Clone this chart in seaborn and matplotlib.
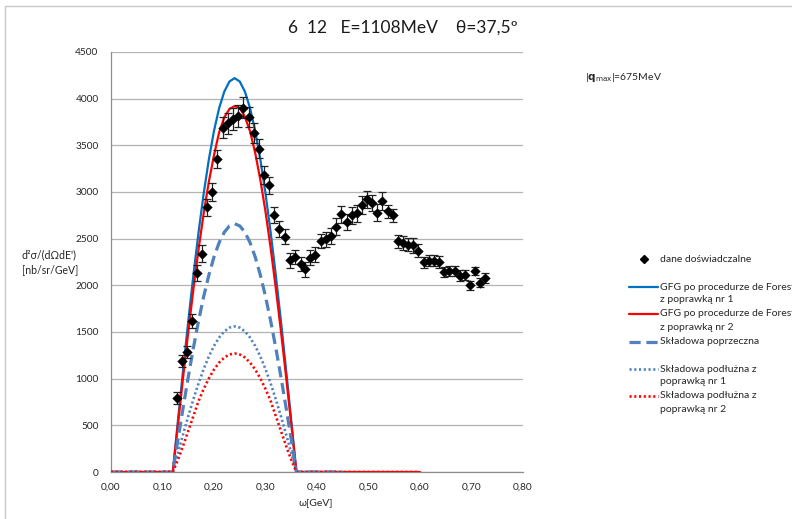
import matplotlib
matplotlib.use("Agg")
import matplotlib.pyplot as plt
from matplotlib.lines import Line2D
from matplotlib.patches import Rectangle
import seaborn as sns
import pandas as pd

# ---------------- data ----------------
omega_data = [0.128, 0.138, 0.147, 0.157, 0.167, 0.177, 0.187, 0.197, 0.206, 0.217,
              0.228, 0.237, 0.247, 0.257, 0.267, 0.277, 0.287, 0.297, 0.307, 0.317,
              0.327, 0.337, 0.348, 0.357, 0.368, 0.377, 0.387, 0.397, 0.407, 0.417,
              0.427, 0.437, 0.447, 0.458, 0.467, 0.477, 0.487, 0.498, 0.507, 0.517,
              0.527, 0.537, 0.547, 0.557, 0.567, 0.577, 0.587, 0.597, 0.607, 0.617,
              0.627, 0.637, 0.647, 0.657, 0.667, 0.678, 0.688, 0.697, 0.707, 0.717,
              0.727]
sigma_data = [790, 1190, 1285, 1615, 2130, 2340, 2835, 3000, 3355, 3690,
              3735, 3780, 3815, 3905, 3805, 3630, 3465, 3180, 3070, 2755,
              2600, 2520, 2270, 2300, 2225, 2170, 2295, 2330, 2475, 2495,
              2525, 2630, 2760, 2680, 2750, 2770, 2860, 2920, 2885, 2780,
              2905, 2795, 2750, 2470, 2450, 2435, 2430, 2370, 2245, 2265,
              2265, 2250, 2140, 2155, 2155, 2105, 2110, 2000, 2155, 2030,
              2080]
sigma_err = [65, 65, 65, 75, 85, 90, 95, 95, 100, 110,
             115, 115, 115, 110, 110, 105, 100, 95, 90, 85,
             85, 80, 80, 75, 75, 80, 80, 80, 80, 80,
             85, 90, 90, 85, 90, 95, 95, 90, 85, 95,
             100, 70, 70, 70, 75, 70, 80, 70, 60, 60,
             60, 60, 55, 55, 55, 55, 55, 45, 45, 45,
             50]

omega_model = [0.00, 0.12, 0.13, 0.14, 0.15, 0.16, 0.17, 0.18, 0.19, 0.20, 0.21, 0.22, 0.23,
               0.24, 0.25, 0.26, 0.27, 0.28, 0.29, 0.30, 0.31, 0.32, 0.33, 0.34, 0.35, 0.36]
omega_tail_blue = [0.45]
omega_tail_red = [0.60]

gfg_nr1 = [0, 0, 551, 1092, 1615, 2110, 2569, 2984, 3348, 3655, 3899, 4076, 4184,
           4220, 4184, 4076, 3899, 3655, 3348, 2984, 2569, 2110, 1615, 1092, 551, 0]
gfg_nr2 = [0, 0, 512, 1015, 1500, 1960, 2386, 2772, 3110, 3395, 3640, 3800, 3890,
           3920, 3900, 3805, 3650, 3420, 3130, 2790, 2400, 1970, 1510, 1020, 515, 0]
transverse = [0, 0, 347, 688, 1018, 1330, 1619, 1881, 2110, 2304, 2458, 2569, 2637,
              2660, 2637, 2569, 2458, 2304, 2110, 1881, 1619, 1330, 1018, 688, 347, 0]
longit_nr1 = [0, 0, 204, 404, 597, 780, 950, 1103, 1238, 1351, 1441, 1507, 1547,
              1560, 1547, 1507, 1441, 1351, 1238, 1103, 950, 780, 597, 404, 204, 0]
longit_nr2 = [0, 0, 130, 280, 440, 600, 760, 890, 1003, 1098, 1172, 1227, 1259,
              1270, 1259, 1227, 1172, 1098, 1003, 890, 760, 600, 440, 280, 130, 0]

x_ticks = [0.0, 0.1, 0.2, 0.3, 0.4, 0.5, 0.6, 0.7, 0.8]
x_tick_labels = ["0,00", "0,10", "0,20", "0,30", "0,40", "0,50", "0,60", "0,70", "0,80"]
y_ticks = [0, 500, 1000, 1500, 2000, 2500, 3000, 3500, 4000, 4500]

legend_labels = ["dane doświadczalne",
                 "GFG po procedurze de Foresta\nz poprawką nr 1",
                 "GFG po procedurze de Foresta\nz poprawką nr 2",
                 "Składowa poprzeczna",
                 "Składowa podłużna z\npoprawką nr 1",
                 "Składowa podłużna z\npoprawką nr 2"]

# ---------------- style ----------------
sns.set_style("white")
plt.rcParams["font.family"] = ["Lato", "DejaVu Sans"]

W, H = 792, 519
fig = plt.figure(figsize=(W / 100, H / 100), dpi=100)
ax = fig.add_axes([111 / W, 1 - 472 / H, (523 - 111) / W, (472 - 52) / H])

C_BLUE = "#0070C0"
C_RED = "#FF0000"
C_LBLUE = "#4F81BD"
TXT = "#262626"


def curve(vals, tail):
    xs = omega_model + tail
    ys = vals + [0] * len(tail)
    return pd.DataFrame({"omega": xs, "val": ys})


blue_df = curve(gfg_nr1, omega_tail_blue)
red_df = curve(gfg_nr2, omega_tail_red)
tr_df = curve(transverse, omega_tail_blue)
l1_df = curve(longit_nr1, omega_tail_blue)
l2_df = curve(longit_nr2, omega_tail_red)

DASH = (0, (3.5, 1.8))
DOT = (0, (0.8, 1.0))

sns.lineplot(data=blue_df, x="omega", y="val", ax=ax, color=C_BLUE, lw=1.6, sort=False, zorder=3)
sns.lineplot(data=red_df, x="omega", y="val", ax=ax, color=C_RED, lw=1.6, sort=False, zorder=3)
sns.lineplot(data=tr_df, x="omega", y="val", ax=ax, color=C_LBLUE, lw=2.3, sort=False, zorder=3)
ax.lines[-1].set_linestyle(DASH)
sns.lineplot(data=l1_df, x="omega", y="val", ax=ax, color=C_LBLUE, lw=1.9, sort=False, zorder=3)
ax.lines[-1].set_linestyle(DOT)
sns.lineplot(data=l2_df, x="omega", y="val", ax=ax, color=C_RED, lw=1.9, sort=False, zorder=3)
ax.lines[-1].set_linestyle(DOT)

ax.errorbar(omega_data, sigma_data, yerr=sigma_err, fmt="none", ecolor="#222222",
            elinewidth=0.9, capsize=2.6, capthick=0.9, zorder=4)
sns.scatterplot(x=omega_data, y=sigma_data, ax=ax, marker="D", s=24, color="black",
                edgecolor="black", linewidth=0.3, zorder=5)

ax.set_xlim(0, 0.8)
ax.set_ylim(0, 4500)
ax.set_xticks(x_ticks)
ax.set_xticklabels(x_tick_labels)
ax.set_yticks(y_ticks)
ax.set_yticklabels([str(v) for v in y_ticks])
ax.yaxis.grid(True, color="#b3b3b3", lw=0.9)
ax.xaxis.grid(False)
ax.set_axisbelow(True)
for s in ["top", "right"]:
    ax.spines[s].set_visible(False)
for s in ["left", "bottom"]:
    ax.spines[s].set_color("#8c8c8c")
    ax.spines[s].set_linewidth(0.9)
ax.tick_params(axis="x", direction="out", length=4, width=0.8, color="#8c8c8c",
               labelsize=7.3, pad=4, labelcolor=TXT)
ax.tick_params(axis="y", direction="out", length=4, width=0.8, color="#8c8c8c",
               labelsize=7.3, pad=5, labelcolor=TXT)
ax.set_xlabel("")
ax.set_ylabel("")

# axis titles
fig.text(316 / W, 1 - 503 / H, "ω[GeV]", ha="center", va="center", fontsize=7.5, color=TXT)
fig.text(22 / W, 1 - 255 / H, "d²σ/(dΩdE')", ha="left", va="center", fontsize=7.6, color=TXT)
fig.text(22 / W, 1 - 270 / H, "[nb/sr/GeV]", ha="left", va="center", fontsize=7.6, color=TXT)

# chart title
fig.text(403 / W, 1 - 33 / H, "6  12   E=1108MeV    θ=37,5º", ha="center", va="baseline",
         fontsize=12.5, color="#1a1a1a")

# |q_max| annotation
fig.text(585 / W, 1 - 77 / H, r"|$\mathbf{q}_{\mathrm{max}}$|=675MeV", ha="left", va="center",
         fontsize=7.5, color=TXT)

# chart border (Excel chart area)
fig.add_artist(Rectangle((5 / W, -0.2), 1.5, 1.2 - 6 / H, transform=fig.transFigure,
                         fill=False, edgecolor="#c8c8c8", lw=1.0))

# legend (manual, figure coords)
def fy(py):
    return 1 - py / H

lx0, lx1, tx = 629 / W, 658 / W, 660 / W
fs_leg = 7.5
fig.add_artist(Line2D([644 / W], [fy(259)], marker="D", ms=4.5, color="black", lw=0,
                      transform=fig.transFigure))
fig.text(tx, fy(259), legend_labels[0], ha="left", va="center", fontsize=fs_leg, color=TXT)

entries = [
    (C_BLUE, "-", 1.6, 287, [287, 300], legend_labels[1]),
    (C_RED, "-", 1.6, 314, [314, 327], legend_labels[2]),
    (C_LBLUE, DASH, 2.3, 342, [342], legend_labels[3]),
    (C_LBLUE, DOT, 1.9, 369, [369, 382], legend_labels[4]),
    (C_RED, DOT, 1.9, 396, [396, 409], legend_labels[5]),
]
for col, ls, lw, ly, tys, lab in entries:
    fig.add_artist(Line2D([lx0, lx1], [fy(ly), fy(ly)], color=col, ls=ls, lw=lw,
                          transform=fig.transFigure))
    for t_y, line in zip(tys, lab.split("\n")):
        fig.text(tx, fy(t_y), line, ha="left", va="center", fontsize=fs_leg, color=TXT)

fig.savefig("out.png", dpi=100)
